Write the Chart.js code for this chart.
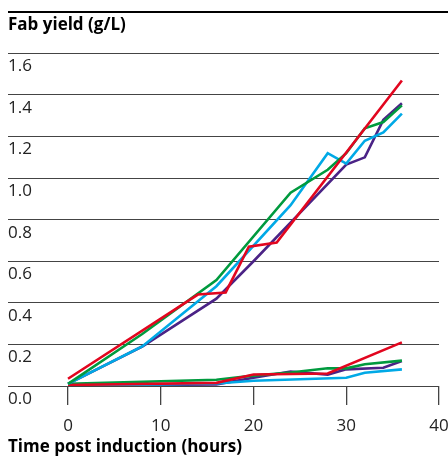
<!DOCTYPE html>
<html>
<head>
<meta charset="utf-8">
<script src="https://cdn.jsdelivr.net/npm/chart.js@4.4.0/dist/chart.umd.min.js"></script>
<style>
  html, body { margin: 0; padding: 0; background: #fff; overflow: hidden; }
  #wrap { width: 448px; height: 457px; position: relative; overflow: hidden; }
</style>
</head>
<body>
<div id="wrap"><canvas id="grafico" width="448" height="457"></canvas></div>
<script>
// ticks
const xTicks = [0, 10, 20, 30, 40];
const yTicks = [0, 0.2, 0.4, 0.6, 0.8, 1.0, 1.2, 1.4, 1.6];

// high-yield runs
const redHighHours = [0, 14, 17, 19.5, 22.5, 36];
const redHighYield = [0.035, 0.44, 0.45, 0.67, 0.69, 1.47];
const greenHighHours = [0, 8, 16, 24, 28, 30, 32, 34, 36];
const greenHighYield = [0.01, 0.25, 0.51, 0.93, 1.04, 1.12, 1.24, 1.27, 1.35];
const blueHighHours = [0, 8, 16, 24, 28, 30, 32, 34, 36];
const blueHighYield = [0.01, 0.19, 0.48, 0.87, 1.12, 1.07, 1.18, 1.22, 1.31];
const purpleHighHours = [0, 8, 16, 20, 30, 32, 34, 36];
const purpleHighYield = [0.01, 0.19, 0.42, 0.6, 1.065, 1.10, 1.28, 1.36];

// low-yield runs
const redLowHours = [0, 16, 20, 28, 36];
const redLowYield = [0.005, 0.015, 0.055, 0.06, 0.21];
const greenLowHours = [0, 16, 20, 24, 28, 30, 32, 36];
const greenLowYield = [0.01, 0.03, 0.05, 0.065, 0.085, 0.085, 0.105, 0.122];
const blueLowHours = [0, 16, 20, 30, 32, 36];
const blueLowYield = [0.0, 0.012, 0.025, 0.04, 0.064, 0.08];
const purpleLowHours = [0, 16, 20, 24, 28, 30, 34, 36];
const purpleLowYield = [0.0, 0.008, 0.04, 0.07, 0.055, 0.08, 0.088, 0.12];

const ROJO = '#e2061f', VERDE = '#009a3e', AZUL = '#00a9e6', MORADO = '#4b2386';

function serie(horas, valores, color) {
  return {
    data: horas.map((h, i) => ({ x: h, y: valores[i] })),
    borderColor: color,
    borderWidth: 2.6,
    pointRadius: 0,
    tension: 0,
    fill: false
  };
}

// thick rule above the title
const lineaSuperior = {
  id: 'lineaSuperior',
  beforeDraw(chart) {
    const ctx = chart.ctx;
    ctx.save();
    ctx.strokeStyle = '#000';
    ctx.lineWidth = 2;
    ctx.beginPath();
    ctx.moveTo(8, 12);
    ctx.lineTo(448, 12);
    ctx.stroke();
    ctx.restore();
  }
};

const fuente = "'Open Sans', 'Noto Sans', sans-serif";

new Chart(document.getElementById('grafico').getContext('2d'), {
  type: 'line',
  data: {
    datasets: [
      serie(redHighHours, redHighYield, ROJO),
      serie(greenHighHours, greenHighYield, VERDE),
      serie(blueHighHours, blueHighYield, AZUL),
      serie(purpleHighHours, purpleHighYield, MORADO),
      serie(redLowHours, redLowYield, ROJO),
      serie(greenLowHours, greenLowYield, VERDE),
      serie(blueLowHours, blueLowYield, AZUL),
      serie(purpleLowHours, purpleLowYield, MORADO)
    ]
  },
  options: {
    responsive: false,
    animation: false,
    layout: { padding: { left: 8, right: 0, top: 0, bottom: 0 } },
    plugins: {
      legend: { display: false },
      tooltip: { enabled: false },
      title: {
        display: true,
        text: 'Fab yield (g/L)',
        align: 'start',
        color: '#000',
        font: { family: fuente, size: 17, weight: 'bold' },
        padding: { top: 15, bottom: 18 }
      }
    },
    scales: {
      x: {
        type: 'linear',
        min: -6.47,
        max: 40,
        afterBuildTicks: s => { s.ticks = xTicks.map(v => ({ value: v })); },
        afterFit: s => { s.height = 71; s.paddingLeft = 0; s.paddingRight = 9; },
        grid: { drawOnChartArea: false, drawTicks: true, tickLength: 19, color: '#444', lineWidth: 1.3 },
        border: { display: false },
        ticks: { color: '#222', font: { family: fuente, size: 17 }, padding: 11, maxRotation: 0 },
        title: {
          display: true,
          text: 'Time post induction (hours)',
          align: 'start',
          color: '#000',
          font: { family: fuente, size: 17, weight: 'bold' },
          padding: { top: 0, bottom: 0 }
        }
      },
      y: {
        min: 0,
        max: 1.6,
        afterBuildTicks: s => { s.ticks = yTicks.map(v => ({ value: v })); },
        grid: { drawTicks: false, color: '#444', lineWidth: 1 },
        border: { display: false },
        ticks: {
          mirror: true,
          padding: 0,
          labelOffset: 13,
          color: '#222',
          font: { family: fuente, size: 17 },
          callback: v => v.toFixed(1)
        }
      }
    }
  },
  plugins: [lineaSuperior]
});
</script>
</body>
</html>
